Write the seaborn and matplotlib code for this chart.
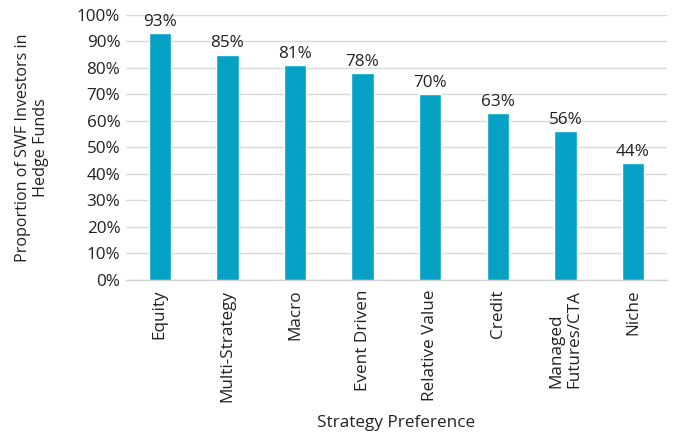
import matplotlib
matplotlib.use("Agg")
import matplotlib.pyplot as plt
import seaborn as sns
import pandas as pd

categories = ["Equity", "Multi-Strategy", "Macro", "Event Driven", "Relative Value",
              "Credit", "Managed\nFutures/CTA", "Niche"]
values = [93, 85, 81, 78, 70, 63, 56, 44]
yticks = [0, 10, 20, 30, 40, 50, 60, 70, 80, 90, 100]

sns.set_theme(style="white")
plt.rcParams['font.family'] = ['Open Sans', 'DejaVu Sans']
FS = 12.3

df = pd.DataFrame({"Strategy": categories, "Value": values})

fig = plt.figure(figsize=(6.77, 4.38), dpi=100)
ax = fig.add_axes([0.186, 0.361, 0.799, 0.605])
sns.barplot(data=df, x="Strategy", y="Value", color="#05A2C6", width=0.33,
            saturation=1, ax=ax, zorder=3)
ax.set_ylim(0, 100)
ax.set_yticks(yticks)
ax.set_yticklabels([f"{v}%" for v in yticks], fontsize=FS, color="#222222")
ax.yaxis.grid(True, color="#D9D9D9", linewidth=1, zorder=0)
ax.set_axisbelow(True)
for s in ["top", "right", "left"]:
    ax.spines[s].set_visible(False)
ax.spines["bottom"].set_color("#D0D0D0")
ax.spines["bottom"].set_linewidth(1)
ax.tick_params(axis="y", length=0, pad=4)
ax.tick_params(axis="x", length=0, pad=7)
plt.setp(ax.get_xticklabels(), rotation=90, fontsize=FS, color="#222222",
         ha="center", va="top", multialignment="left")
ax.set_xlim(-0.5, len(categories) - 0.5)
for i, v in enumerate(values):
    ax.text(i, v + 1.2, f"{v}%", ha="center", va="bottom", fontsize=FS, color="#222222")
ax.set_ylabel("Proportion of SWF Investors in\nHedge Funds", fontsize=11.6, color="#222222")
ax.yaxis.set_label_coords(-0.142, 0.5)
ax.set_xlabel("Strategy Preference", fontsize=FS, color="#222222")
ax.xaxis.set_label_coords(0.5, -0.51)
fig.savefig("out.png", dpi=100)
